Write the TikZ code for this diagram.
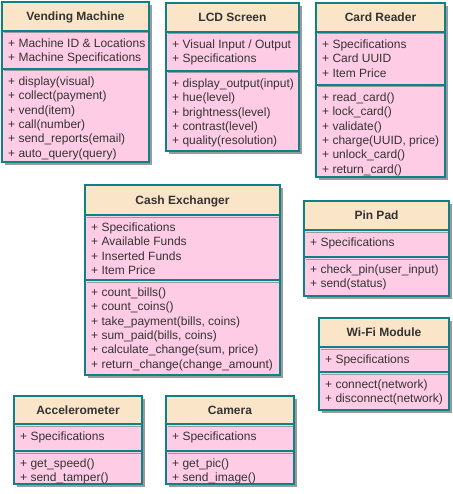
\documentclass[tikz,border=0pt]{standalone}
\usepackage{fontspec}
\setmainfont{Liberation Sans}
\definecolor{teal}{HTML}{0E8088}
\definecolor{hdrfill}{HTML}{FBE5C8}
\definecolor{bodyfill}{HTML}{FFCCE6}
\definecolor{txt}{HTML}{333333}
\definecolor{shade}{HTML}{9A9A9A}
\tikzset{
  hdrbox/.style={draw=teal, fill=hdrfill, line width=2pt},
  bodybox/.style={draw=teal, fill=bodyfill, line width=2pt},
  shadowbox/.style={fill=shade, draw=none},
  sepshade/.style={draw=shade, line width=1pt},
  titletext/.style={anchor=base, inner sep=0pt, text=txt, font=\fontsize{12}{14.4}\selectfont\bfseries},
  linetext/.style={anchor=base west, inner sep=0pt, text=txt, font=\fontsize{12}{14.4}\selectfont}
}
% #1 name, #2 x1, #3 x2, #4 y1, #5 yh, #6 ya, #7 y2, #8 title
\newcommand\umlclass[8]{%
  \fill[shadowbox] (#2+3,#4+3) rectangle (#3+3,#7+3);
  \draw[hdrbox] (#2,#4) rectangle (#3,#5);
  \draw[bodybox] (#2,#5) rectangle (#3,#6);
  \draw[bodybox] (#2,#6) rectangle (#3,#7);
  \draw[sepshade] (#2+1.5,#5+2) -- (#3-1.5,#5+2);
  \draw[sepshade] (#2+1.5,#6+2) -- (#3-1.5,#6+2);
  \node[titletext] (#1) at ({(#2+#3)/2},{(#4+#5)/2+4.3}) {#8};
}
% #1 name prefix, #2 x, #3 ytop, #4 list
\newcommand\umllines[4]{%
  \foreach \t [count=\i from 0] in {#4}
    \node[linetext] (#1-\i) at (#2+6,#3+16.3+14.4*\i) {\t};
}
\begin{document}
\begin{tikzpicture}[x=1pt,y=-1pt]
\useasboundingbox (0,0) rectangle (452,494);

\umlclass{vm}{2}{149}{2}{31}{69}{162}{Vending Machine}
\umllines{vma}{2}{31}{+ Machine ID \& Locations,+ Machine Specifications}
\umllines{vmm}{2}{69}{+ display(visual),+ collect(payment),+ vend(item),+ call(number),+ send\_reports(email),+ auto\_query(query)}

\umlclass{lcd}{166}{299}{3}{32}{71}{151}{LCD Screen}
\umllines{lcda}{166}{32}{+ Visual Input / Output,+ Specifications}
\umllines{lcdm}{166}{71}{+ display\_output(input),+ hue(level),+ brightness(level),+ contrast(level),+ quality(resolution)}

\umlclass{cr}{316}{445}{3}{32}{85}{177}{Card Reader}
\umllines{cra}{316}{32}{+ Specifications,+ Card UUID,+ Item Price}
\umllines{crm}{316}{85}{+ read\_card(),+ lock\_card(),+ validate(),{+ charge(UUID, price)},+ unlock\_card(),+ return\_card()}

\umlclass{ce}{85}{280}{185}{215}{280}{375}{Cash Exchanger}
\umllines{cea}{85}{215}{+ Specifications,+ Available Funds,+ Inserted Funds,+ Item Price}
\umllines{cem}{85}{280}{+ count\_bills(),+ count\_coins(),{+ take\_payment(bills, coins)},{+ sum\_paid(bills, coins)},{+ calculate\_change(sum, price)},+ return\_change(change\_amount)}

\umlclass{pp}{304}{449}{201}{230}{257}{296}{Pin Pad}
\umllines{ppa}{304}{230}{+ Specifications}
\umllines{ppm}{304}{257}{+ check\_pin(user\_input),+ send(status)}

\umlclass{wf}{319}{449}{318}{347}{372}{410}{Wi-Fi Module}
\umllines{wfa}{319}{347}{+ Specifications}
\umllines{wfm}{319}{372}{+ connect(network),+ disconnect(network)}

\umlclass{acc}{14}{142}{396}{424}{451}{484}{Accelerometer}
\umllines{acca}{14}{424}{+ Specifications}
\umllines{accm}{14}{451}{+ get\_speed(),+ send\_tamper()}

\umlclass{cam}{166}{294}{396}{424}{451}{484}{Camera}
\umllines{cama}{166}{424}{+ Specifications}
\umllines{camm}{166}{451}{+ get\_pic(),+ send\_image()}
\end{tikzpicture}
\end{document}
